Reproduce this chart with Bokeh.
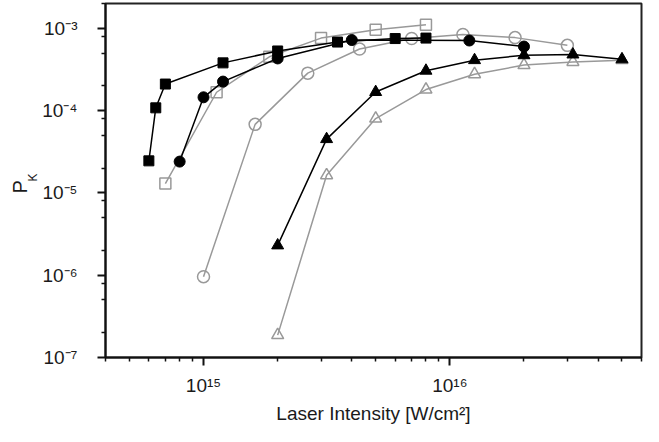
from bokeh.plotting import figure
from bokeh.models import FixedTicker, Title
from bokeh.embed import file_html
from bokeh.resources import INLINE

# ---- data ----
sq_filled_x = [6.0e14, 6.4e14, 7.0e14, 1.2e15, 2.0e15, 3.5e15, 6.0e15, 8.0e15]
sq_filled_y = [2.45e-5, 1.08e-4, 2.1e-4, 3.8e-4, 5.3e-4, 6.8e-4, 7.5e-4, 7.6e-4]

circ_filled_x = [8.0e14, 1.0e15, 1.2e15, 2.0e15, 4.0e15, 1.2e16, 2.0e16]
circ_filled_y = [2.4e-5, 1.45e-4, 2.25e-4, 4.3e-4, 7.2e-4, 7.1e-4, 6.0e-4]

sq_open_x = [7.0e14, 1.13e15, 1.85e15, 3.0e15, 5.0e15, 8.0e15]
sq_open_y = [1.3e-5, 1.67e-4, 4.5e-4, 7.6e-4, 9.6e-4, 1.1e-3]

circ_open_x = [1.0e15, 1.62e15, 2.65e15, 4.3e15, 7.0e15, 1.13e16, 1.84e16, 3.0e16]
circ_open_y = [9.6e-7, 6.8e-5, 2.85e-4, 5.6e-4, 7.5e-4, 8.4e-4, 7.7e-4, 6.2e-4]

tri_filled_x = [2.0e15, 3.16e15, 5.0e15, 8.0e15, 1.26e16, 2.0e16, 3.16e16, 5.0e16]
tri_filled_y = [2.3e-6, 4.5e-5, 1.68e-4, 3.05e-4, 4.1e-4, 4.7e-4, 4.8e-4, 4.2e-4]

tri_open_x = [2.0e15, 3.16e15, 5.0e15, 8.0e15, 1.26e16, 2.0e16, 3.16e16, 5.0e16]
tri_open_y = [1.87e-7, 1.64e-5, 8.0e-5, 1.8e-4, 2.77e-4, 3.57e-4, 3.9e-4, 4.1e-4]

x_ticks = [1e15, 1e16]
x_tick_labels = ["10\u00b9\u2075", "10\u00b9\u2076"]
x_minor_ticks = [4e14, 5e14, 6e14, 7e14, 8e14, 9e14,
                 2e15, 3e15, 4e15, 5e15, 6e15, 7e15, 8e15, 9e15,
                 2e16, 3e16, 4e16, 5e16, 6e16]
y_ticks = [1e-7, 1e-6, 1e-5, 1e-4, 1e-3]
y_tick_labels = ["10\u207b\u2077", "10\u207b\u2076", "10\u207b\u2075", "10\u207b\u2074", "10\u207b\u00b3"]
y_minor_ticks = [2e-7, 5e-7, 8e-7, 2e-6, 5e-6, 8e-6, 2e-5, 5e-5, 8e-5,
                 2e-4, 5e-4, 8e-4, 2e-3]

x_label = "Laser Intensity [W/cm\u00b2]"
y_label_main = "P"
y_label_sub = "K"

BLACK = "#000000"
GRAY = "#999999"
FONT = "Liberation Sans"
TEXT = "#1a1a1a"

p = figure(width=643, height=426, x_axis_type="log", y_axis_type="log",
           x_range=(4e14, 6e16), y_range=(1e-7, 2e-3),
           output_backend="svg", toolbar_location=None,
           min_border_left=105, min_border_right=2, min_border_top=3,
           min_border_bottom=0)
p.grid.visible = False
p.outline_line_color = "#222222"
p.outline_line_width = 2
p.background_fill_color = "white"
p.border_fill_color = "white"

p.xaxis.ticker = FixedTicker(ticks=x_ticks, minor_ticks=x_minor_ticks)
p.yaxis.ticker = FixedTicker(ticks=y_ticks, minor_ticks=y_minor_ticks)
p.xaxis.major_label_overrides = dict(zip(x_ticks, x_tick_labels))
p.yaxis.major_label_overrides = dict(zip(y_ticks, y_tick_labels))

for ax in (p.xaxis, p.yaxis):
    ax.axis_line_width = 2
    ax.axis_line_color = "#111111"
    ax.major_tick_in = 0
    ax.major_tick_out = 8
    ax.minor_tick_in = 0
    ax.minor_tick_out = 4
    ax.major_tick_line_width = 2
    ax.minor_tick_line_width = 1.5
    ax.major_tick_line_color = "#111111"
    ax.minor_tick_line_color = "#111111"
    ax.major_label_text_font = FONT
    ax.major_label_text_font_size = "19px"
    ax.major_label_text_color = TEXT
    ax.major_label_text_line_height = 1.0
    ax.axis_label_text_font = FONT
    ax.axis_label_text_font_size = "19px"
    ax.axis_label_text_font_style = "normal"
    ax.axis_label_text_color = TEXT
    ax.axis_label_text_line_height = 1.0

p.xaxis.axis_label = x_label
p.xaxis.major_label_standoff = 9
p.xaxis.axis_label_standoff = 4
p.yaxis.major_label_standoff = 20

# Y axis label "P" with subscript "K" (stacked titles in the left panel)
p.add_layout(Title(text=y_label_sub, align="left", offset=176,
                   text_font=FONT, text_font_size="12px", text_color=TEXT,
                   text_font_style="normal", standoff=0), "left")
p.add_layout(Title(text=y_label_main, align="left", offset=164,
                   text_font=FONT, text_font_size="20px", text_color=TEXT,
                   text_font_style="normal", standoff=-14), "left")

# gray (open) series first
p.line(circ_open_x, circ_open_y, line_color=GRAY, line_width=1.5)
p.scatter(circ_open_x, circ_open_y, marker="circle", size=12,
          fill_color=None, line_color=GRAY, line_width=1.5)
p.line(tri_open_x, tri_open_y, line_color=GRAY, line_width=1.5)
p.scatter(tri_open_x, tri_open_y, marker="triangle", size=12,
          fill_color=None, line_color=GRAY, line_width=1.5)
p.line(sq_open_x, sq_open_y, line_color=GRAY, line_width=1.5)
p.scatter(sq_open_x, sq_open_y, marker="square", size=11,
          fill_color=None, line_color=GRAY, line_width=1.5)

# black (filled) series
p.line(tri_filled_x, tri_filled_y, line_color=BLACK, line_width=1.5)
p.scatter(tri_filled_x, tri_filled_y, marker="triangle", size=12,
          fill_color=BLACK, line_color=BLACK)
p.line(circ_filled_x, circ_filled_y, line_color=BLACK, line_width=1.5)
p.scatter(circ_filled_x, circ_filled_y, marker="circle", size=11,
          fill_color=BLACK, line_color=BLACK)
p.line(sq_filled_x, sq_filled_y, line_color=BLACK, line_width=1.5)
p.scatter(sq_filled_x, sq_filled_y, marker="square", size=10,
          fill_color=BLACK, line_color=BLACK)

open("out.html", "w").write(file_html(p, INLINE))
